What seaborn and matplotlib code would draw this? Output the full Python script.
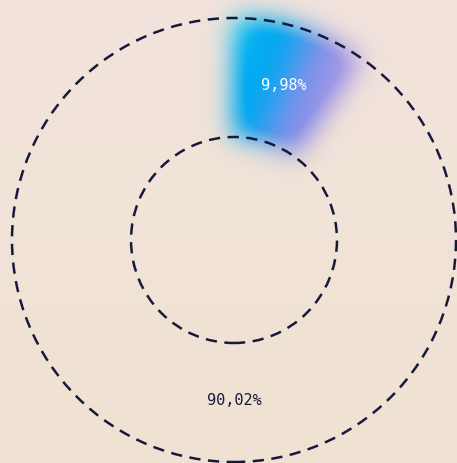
import numpy as np
import matplotlib
matplotlib.use("Agg")
import matplotlib.pyplot as plt
import seaborn as sns
from matplotlib.colors import LinearSegmentedColormap

labels = ["9,98%", "90,02%"]
shares = [9.98, 90.02]

sns.set_theme(style="white")
plt.rcParams["font.family"] = ["DejaVu Sans Mono", "DejaVu Sans"]

bg_top = "#f2e4dc"
bg_bottom = "#efe2d2"
line_col = "#161a3a"
wedge_cmap = LinearSegmentedColormap.from_list(
    "w", ["#40d6f2", "#00acf2", "#00a8f2", "#6c94ec", "#9a90e6", "#c8b4ea"])


def gauss_blur(a, sigma):
    r = int(3 * sigma)
    x = np.arange(-r, r + 1)
    k = np.exp(-x**2 / (2 * sigma**2))
    k /= k.sum()
    a = np.apply_along_axis(lambda m: np.convolve(m, k, mode="same"), 0, a)
    a = np.apply_along_axis(lambda m: np.convolve(m, k, mode="same"), 1, a)
    return a


def glow_filter(im, dpi):
    # recolour the wedge with a diagonal gradient, then blur it
    pad = 60
    h, w = im.shape[:2]
    out = np.zeros((h + 2 * pad, w + 2 * pad, 4))
    alpha = im[:, :, 3]
    yy, xx = np.mgrid[0:h, 0:w]
    proj = xx + 0.4 * yy  # rows go top -> bottom
    inside = alpha > 0
    if inside.any():
        lo, hi = proj[inside].min(), proj[inside].max()
    else:
        lo, hi = 0, 1
    t = np.clip((proj - lo) / max(hi - lo, 1), 0, 1)
    rgb = wedge_cmap(t)[:, :, :3]
    out[pad:pad + h, pad:pad + w, :3] = rgb * alpha[:, :, None]
    out[pad:pad + h, pad:pad + w, 3] = alpha
    s = 13 * dpi / 100
    for c in range(4):
        out[:, :, c] = gauss_blur(out[:, :, c], s)
    a = out[:, :, 3:4]
    out[:, :, :3] = np.where(a > 1e-4, out[:, :, :3] / np.maximum(a, 1e-4), 0)
    out[:, :, 3] = np.clip(out[:, :, 3] * 1.2, 0, 1)
    return out, -pad, -pad


W, H = 457, 463
cx, cy, R = 234, 240, 222
r_in = 103 / R

fig = plt.figure(figsize=(W / 100, H / 100), dpi=100)
ax = fig.add_axes([0, 0, 1, 1])
xl = (-cx / R, (W - cx) / R)
yl = (-(H - cy) / R, cy / R)

grad = np.linspace(0, 1, 256)[:, None]
bg = LinearSegmentedColormap.from_list("bg", [bg_top, bg_bottom])
ax.imshow(grad, cmap=bg, extent=[xl[0], xl[1], yl[0], yl[1]], aspect="auto", zorder=0)

wedges, _ = ax.pie(shares, startangle=90, counterclock=False, radius=1,
                   colors=["#00aef2", "none"],
                   wedgeprops=dict(width=1 - r_in, linewidth=0))
wedges[0].set_agg_filter(glow_filter)
wedges[0].set_zorder(1)

for rad in (1, r_in):
    ax.add_patch(plt.Circle((0, 0), rad, fill=False, color=line_col, lw=1.8,
                            ls=(0, (4.5, 3)), zorder=3))

mid_r = (1 + r_in) / 2
ang0 = np.deg2rad(90 - shares[0] / 100 * 360 / 2)
ax.text(mid_r * np.cos(ang0), mid_r * np.sin(ang0), labels[0], color="white",
        ha="center", va="center", fontsize=11, zorder=4)
ax.text(0, -mid_r + 0.01, labels[1], color=line_col,
        ha="center", va="center", fontsize=11, zorder=4)

ax.set_xlim(*xl)
ax.set_ylim(*yl)
ax.set_aspect("auto")
ax.axis("off")
fig.savefig("out.png", dpi=100)
